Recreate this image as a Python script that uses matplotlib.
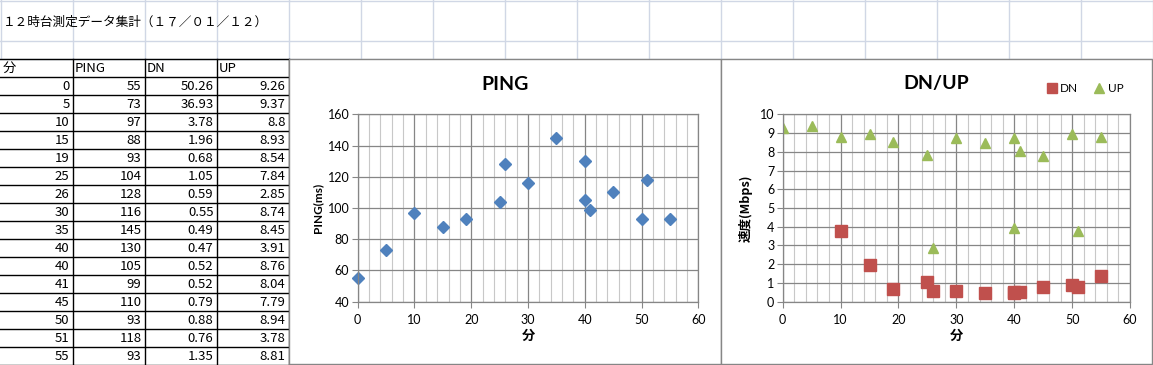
import matplotlib
matplotlib.use("Agg")
import matplotlib.pyplot as plt
from matplotlib.ticker import MultipleLocator

# data read from the sheet
minutes = [0, 5, 10, 15, 19, 25, 26, 30, 35, 40, 40, 41, 45, 50, 51, 55]
ping = [55, 73, 97, 88, 93, 104, 128, 116, 145, 130, 105, 99, 110, 93, 118, 93]
dn = [50.26, 36.93, 3.78, 1.96, 0.68, 1.05, 0.59, 0.55, 0.49, 0.47, 0.52, 0.52, 0.79, 0.88, 0.76, 1.35]
up = [9.26, 9.37, 8.8, 8.93, 8.54, 7.84, 2.85, 8.74, 8.45, 3.91, 8.76, 8.04, 7.79, 8.94, 3.78, 8.81]
headers = ["分", "PING", "DN", "UP"]
sheet_title = "１２時台測定データ集計（１７／０１／１２）"

W, H = 1153, 365
JP = ["Noto Sans CJK JP", "DejaVu Sans"]
LAT = ["Lato", "Noto Sans CJK JP", "DejaVu Sans"]

fig = plt.figure(figsize=(W / 100, H / 100), dpi=100)
bg = fig.add_axes([0, 0, 1, 1])
bg.set_xlim(0, W)
bg.set_ylim(H, 0)
bg.axis("off")

# spreadsheet grid above the table/charts
grid_c = "#D0D7E5"
for k in range(0, 17):
    x = 72 * k + 0.5
    bg.plot([x, x], [0, 58], color=grid_c, lw=1)
for y in (0.5, 40.5, 58.5):
    bg.plot([0, W], [y, y], color=grid_c, lw=1)

bg.text(3, 22, sheet_title, fontsize=9.1, family=JP, va="center", ha="left")

# table
col_x = [0.5, 72.5, 144.5, 216.5, 288.5]
row0 = 58.5
rh = 18
nrows = len(minutes) + 1
for i in range(nrows + 1):
    y = row0 + rh * i
    bg.plot([0, 288.5], [y, y], color="black", lw=1)
for x in col_x[1:]:
    bg.plot([x, x], [row0, row0 + rh * nrows], color="black", lw=1)

for j, h in enumerate(headers):
    bg.text(col_x[j] + 2, row0 + rh / 2 + 1, h, fontsize=9.5, family=JP, va="center", ha="left")

for i, row in enumerate(zip(minutes, ping, dn, up)):
    y = row0 + rh * (i + 1) + rh / 2 + 1
    for j, v in enumerate(row):
        bg.text(col_x[j + 1] - 3, y, str(v), fontsize=9.5, family=JP, va="center", ha="right")

# chart frames
for x0, x1 in ((289, 721), (721, 1152)):
    bg.add_patch(plt.Rectangle((x0, 58.5), x1 - x0, 305.5, facecolor="white",
                               edgecolor="#868686", lw=1, zorder=3))

def frac(px_l, px_t, px_r, px_b):
    return [px_l / W, (H - px_b) / H, (px_r - px_l) / W, (px_b - px_t) / H]

def style(ax, ymaj):
    ax.set_xlim(0, 60)
    ax.xaxis.set_major_locator(MultipleLocator(10))
    ax.xaxis.set_minor_locator(MultipleLocator(2))
    ax.yaxis.set_major_locator(MultipleLocator(ymaj))
    ax.grid(which="minor", axis="x", color="#C8C8C8", lw=0.8)
    ax.grid(which="major", axis="x", color="#868686", lw=0.9)
    ax.grid(which="major", axis="y", color="#868686", lw=0.9)
    ax.set_axisbelow(True)
    for s in ax.spines.values():
        s.set_color("#868686")
        s.set_linewidth(0.9)
    ax.tick_params(which="major", length=4, color="#868686", labelsize=9, pad=2)
    ax.tick_params(which="minor", length=0)
    ax.tick_params(axis="x", pad=5)
    for lab in ax.get_xticklabels() + ax.get_yticklabels():
        lab.set_family(LAT)

# PING chart
ax1 = fig.add_axes(frac(357.7, 114.3, 698.3, 301.7), zorder=5)
ax1.plot(minutes, ping, ls="none", marker="D", ms=6.5, color="#4F81BD", clip_on=False)
ax1.set_ylim(40, 160)
style(ax1, 20)
ax1.set_xlabel("分", family=JP, fontsize=9.5, fontweight="bold", labelpad=2)
ax1.set_ylabel("PING(ms)", family=LAT, fontsize=8.5, fontweight="bold", labelpad=3)
fig.text(505 / W, (H - 84) / H, "PING", family=LAT, fontsize=14, fontweight="bold",
         ha="center", va="center", zorder=6)

# DN/UP chart
ax2 = fig.add_axes(frac(782.7, 114.3, 1130, 301.7), zorder=5)
ax2.plot(minutes, dn, ls="none", marker="s", ms=8, color="#C0504D", label="DN")
ax2.plot(minutes, up, ls="none", marker="^", ms=7.5, color="#9BBB59", label="UP")
ax2.set_ylim(0, 10)
style(ax2, 1)
ax2.set_xlabel("分", family=JP, fontsize=9.5, fontweight="bold", labelpad=2)
ax2.set_ylabel("速度(Mbps)", family=JP, fontsize=9, fontweight="bold", labelpad=5)
fig.text(936 / W, (H - 84) / H, "DN/UP", family=LAT, fontsize=14, fontweight="bold",
         ha="center", va="center", zorder=6)
leg = fig.legend(*ax2.get_legend_handles_labels(), loc="center", ncol=2, frameon=False,
                 bbox_to_anchor=(1084 / W, (H - 89) / H), prop={"family": LAT, "size": 8.5},
                 handletextpad=0.1, columnspacing=1.2, handlelength=1.2, markerscale=0.9)

fig.savefig("out.png", dpi=100)
